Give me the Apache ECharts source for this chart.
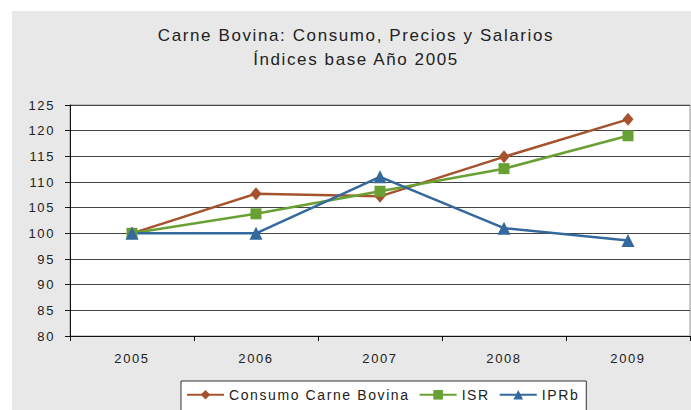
<!DOCTYPE html>
<html>
<head>
<meta charset="utf-8">
<script src="https://cdn.jsdelivr.net/npm/echarts@6/dist/echarts.min.js"></script>
<style>
  html, body { margin: 0; padding: 0; background: #fff; }
  #chart { width: 691px; height: 410px; }
  #chart svg text { letter-spacing: 1.6px; }
</style>
</head>
<body>
<div id="chart"></div>
<script>
const years = ['2005', '2006', '2007', '2008', '2009']
const consumo = [100, 107.7, 107.2, 114.9, 122.2]
const isr = [100, 103.8, 108.2, 112.6, 119.0]
const iprb = [100, 100, 111.0, 101.0, 98.6]
const yMin = 80
const yMax = 125
const yStep = 5

const SPACING = 1.6
const FONT = 'Liberation Sans, Arial, sans-serif'

// the picture uses wide letter spacing, keep layout measurements in step with it
if (echarts.setPlatformAPI) {
  const measureCtx = document.createElement('canvas').getContext('2d')
  echarts.setPlatformAPI({
    measureText: function (text, font) {
      measureCtx.font = font || '12px sans-serif'
      return { width: measureCtx.measureText(text).width + text.length * SPACING }
    }
  })
}

const chart = echarts.init(document.getElementById('chart'), null, { renderer: 'svg' })

chart.setOption({
  animation: false,
  backgroundColor: '#fff',
  graphic: [{
    type: 'rect',
    z: -10,
    silent: true,
    shape: { x: 12, y: 11, width: 700, height: 420 },
    style: { fill: '#e8e8e8' }
  }],
  title: {
    text: 'Carne Bovina: Consumo, Precios y Salarios\nÍndices base Año 2005',
    left: 356,
    top: 23,
    padding: 0,
    textAlign: 'center',
    textStyle: {
      fontFamily: FONT,
      fontSize: 17,
      fontWeight: 'normal',
      color: '#222',
      lineHeight: 24
    }
  },
  legend: {
    left: 181,
    top: 381,
    padding: [6, 7, 12, 5],
    itemWidth: 37,
    itemHeight: 12,
    itemGap: 9,
    backgroundColor: '#fff',
    borderColor: '#333',
    borderWidth: 1,
    borderRadius: 0,
    textStyle: {
      fontFamily: FONT,
      fontSize: 14,
      color: '#222'
    },
    data: ['Consumo Carne Bovina', 'ISR', 'IPRb']
  },
  grid: {
    left: 70,
    right: 1,
    top: 105,
    bottom: 74,
    show: true,
    backgroundColor: '#fff',
    borderColor: '#999',
    borderWidth: 1,
    containLabel: false
  },
  xAxis: {
    type: 'category',
    data: years,
    boundaryGap: true,
    axisLine: { show: true, lineStyle: { color: '#111', width: 1 } },
    axisTick: { show: true, length: 5, lineStyle: { color: '#111' } },
    axisLabel: {
      margin: 15,
      fontFamily: FONT,
      fontSize: 13,
      color: '#222'
    },
    splitLine: { show: false }
  },
  yAxis: {
    type: 'value',
    min: yMin,
    max: yMax,
    interval: yStep,
    axisLine: { show: true, lineStyle: { color: '#111', width: 1 } },
    axisTick: { show: true, length: 5, lineStyle: { color: '#111' } },
    axisLabel: {
      margin: 15,
      fontFamily: FONT,
      fontSize: 13,
      color: '#222'
    },
    splitLine: { show: true, lineStyle: { color: '#444', width: 1 } }
  },
  series: [
    {
      name: 'Consumo Carne Bovina',
      type: 'line',
      data: consumo,
      symbol: 'diamond',
      symbolSize: [11, 13],
      lineStyle: { color: '#a5532e', width: 2.5 },
      itemStyle: { color: '#a5532e' }
    },
    {
      name: 'ISR',
      type: 'line',
      data: isr,
      symbol: 'rect',
      symbolSize: 11,
      lineStyle: { color: '#68a033', width: 2.5 },
      itemStyle: { color: '#68a033' }
    },
    {
      name: 'IPRb',
      type: 'line',
      data: iprb,
      symbol: 'triangle',
      symbolSize: 13,
      lineStyle: { color: '#33699c', width: 2.5 },
      itemStyle: { color: '#33699c' }
    }
  ]
})

window.addEventListener('resize', function () {
  chart.resize()
})
</script>
</body>
</html>
